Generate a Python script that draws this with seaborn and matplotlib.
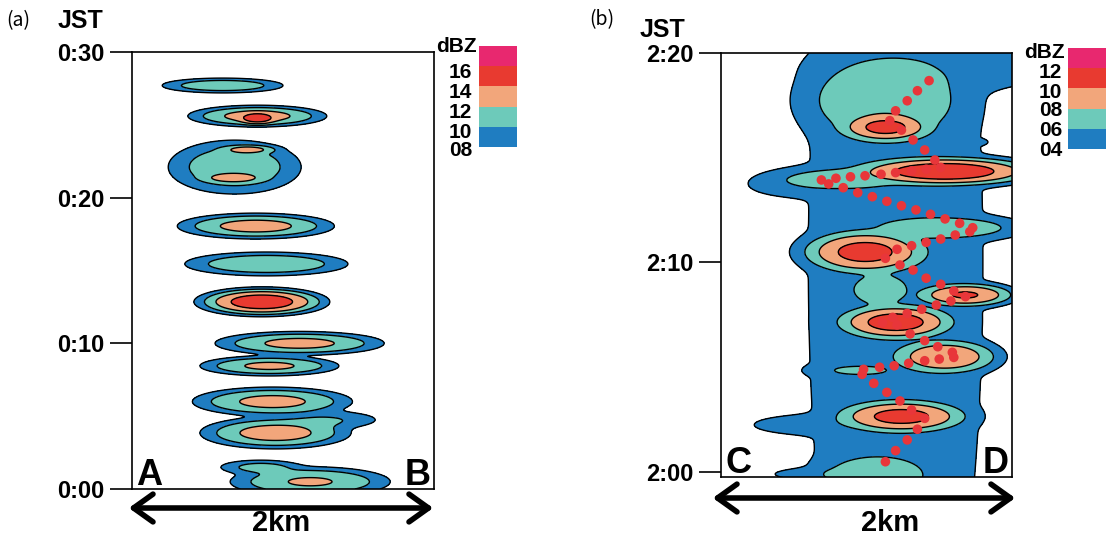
import numpy as np
import matplotlib
matplotlib.use("Agg")
import matplotlib.pyplot as plt
from matplotlib.patches import FancyArrowPatch
import seaborn as sns

# panel (a): cells along A-B, half extents of the 08 dBZ contour (km, minutes)
a_x = [0.60, 0.83, 0.83, 0.68, 0.77, 0.67, 0.82, 0.89, 0.86, 1.11, 0.91, 0.93, 0.95, 1.31, 1.18, 0.85]
a_t = [27.7, 25.6, 25.45, 22.1, 23.3, 21.35, 18.05, 15.45, 12.85, 10.0, 8.45, 6.0, 3.85, 4.75, 0.5, 1.5]
a_wx = [0.40, 0.46, 0.15, 0.44, 0.20, 0.22, 0.52, 0.54, 0.45, 0.56, 0.46, 0.53, 0.50, 0.30, 0.53, 0.26]
a_wt = [0.51, 0.75, 0.50, 1.85, 0.35, 0.40, 0.89, 0.82, 1.03, 0.82, 0.69, 1.00, 1.10, 0.55, 1.03, 0.48]
a_peak = [11.5, 12.9, 14.5, 11.5, 12.4, 12.4, 12.8, 11.8, 15.3, 12.6, 12.4, 12.6, 12.9, 10.0, 12.2, 10.6]

# panel (b): cells along C-D, half extents of the 06 dBZ contour
b_x = [1.12, 1.13, 1.54, 0.82, 0.99, 1.54, 1.68, 1.20, 1.09, 1.54, 0.97, 1.24, 1.06]
b_t = [17.75, 16.45, 14.35, 14.0, 10.5, 11.65, 8.45, 7.15, 8.7, 5.5, 4.85, 2.65, -0.15]
b_wx = [0.43, 0.30, 0.62, 0.31, 0.41, 0.38, 0.31, 0.39, 0.15, 0.33, 0.12, 0.43, 0.29]
b_wt = [1.62, 0.67, 0.68, 0.38, 1.00, 0.43, 0.53, 0.81, 0.57, 0.76, 0.14, 0.76, 0.76]
b_peak = [7.8, 10.6, 11.5, 6.8, 10.8, 7.3, 10.2, 11.0, 7.0, 9.8, 6.5, 10.7, 7.3]

# panel (b): weak echo around the cells, half extents of the 04 dBZ contour
bg_x = [1.20, 0.54, 1.02, 0.61, 0.75, 1.50, 0.80, 1.75]
bg_t = [10.0, 13.7, 12.85, 2.25, -0.1, 19.3, 4.85, 15.75]
bg_wx = [0.60, 0.34, 0.24, 0.38, 0.37, 0.80, 0.20, 0.06]
bg_wt = [24.0, 0.57, 0.57, 0.45, 0.30, 1.1, 0.30, 0.12]
bg_peak = [5.3, 5.2, 5.2, 5.2, 5.2, 5.2, 5.2, 4.6]

# red dots in panel (b)
dot_x = [1.43, 1.35, 1.28, 1.20, 1.16, 1.24, 1.32, 1.40, 1.47, 1.51, 1.41, 1.31, 1.20, 1.10,
         0.99, 0.89, 0.79, 0.69, 0.74, 0.84, 0.94, 1.04, 1.14, 1.24, 1.34, 1.44, 1.54, 1.64,
         1.73, 1.71, 1.61, 1.51, 1.41, 1.31, 1.21, 1.13, 1.23, 1.32, 1.41, 1.51, 1.60, 1.68,
         1.58, 1.48, 1.38, 1.28, 1.18, 1.11, 1.21, 1.30, 1.40, 1.49, 1.59, 1.60, 1.50, 1.40,
         1.29, 1.19, 1.09, 0.98, 0.97, 1.05, 1.14, 1.23, 1.31, 1.40, 1.35, 1.28, 1.20, 1.13]
dot_t = [18.68, 18.20, 17.72, 17.24, 16.77, 16.32, 15.85, 15.37, 14.89, 14.54, 14.45, 14.37,
         14.29, 14.21, 14.14, 14.09, 14.02, 13.94, 13.75, 13.57, 13.33, 13.14, 12.92, 12.71,
         12.51, 12.30, 12.08, 11.87, 11.66, 11.47, 11.31, 11.12, 10.96, 10.80, 10.63, 10.20,
         9.88, 9.64, 9.25, 8.96, 8.64, 8.37, 8.16, 7.97, 7.77, 7.57, 7.38, 7.13, 7.02, 6.59,
         6.27, 5.98, 5.71, 5.47, 5.39, 5.31, 5.19, 5.07, 5.00, 4.90, 4.66, 4.23, 3.80, 3.39,
         2.96, 2.56, 2.04, 1.53, 1.02, 0.49]

a_ticks = [0, 10, 20, 30]
a_ticklabels = ["0:00", "0:10", "0:20", "0:30"]
b_ticks = [0, 10, 20]
b_ticklabels = ["2:00", "2:10", "2:20"]
a_levels = [8, 10, 12, 14, 16, 40]
b_levels = [4, 6, 8, 10, 12, 40]
a_key = ["16", "14", "12", "10", "08"]
b_key = ["12", "10", "08", "06", "04"]
colors = ["#1f7dc1", "#6dcaba", "#f2a67b", "#e83a30", "#e8286f"]

sns.set_style("white")
plt.rcParams["font.family"] = ["Liberation Sans", "DejaVu Sans"]
plt.rcParams["text.color"] = "black"

SHAPE = 1.25  # flatter than a gaussian


def cells(xx, tt, cx, ct, wx, wt, peak, ref):
    # sum of f**6 -> smooth maximum of the cells
    out = np.zeros_like(xx)
    for x0, t0, w1, w2, p in zip(cx, ct, wx, wt, peak):
        k = np.log(p / ref) ** (1 / (2 * SHAPE))
        q = ((xx - x0) / (w1 / k)) ** 2 + ((tt - t0) / (w2 / k)) ** 2
        out += (p * np.exp(-q ** SHAPE)) ** 6
    return out


def setup(ax, ticks, labels, ylim):
    ax.set_xlim(0, 2)
    ax.set_ylim(*ylim)
    ax.set_xticks([])
    ax.set_yticks(ticks)
    ax.set_yticklabels(labels, fontsize=17, fontweight="bold")
    ax.tick_params(axis="y", left=True, length=16, width=1.2, pad=4, color="k", labelcolor="k")
    for s in ax.spines.values():
        s.set_color("k")
        s.set_linewidth(1.2)
    ax.yaxis.get_major_ticks()[-1].tick1line.set_color("#4a4a9a")


fig = plt.figure(figsize=(11.06, 5.39), dpi=100)
W, H = 1106, 539


def fx(px):
    return px / W


def fy(py):
    return 1 - py / H


# ---- panel (a)
axa = fig.add_axes([fx(132), fy(489), 302 / W, 437 / H])
xg = np.linspace(0, 2, 400)
xa, ta = np.meshgrid(xg, np.linspace(0, 30, 700))
fa = cells(xa, ta, a_x, a_t, a_wx, a_wt, a_peak, 8) ** (1 / 6)
axa.contourf(xa, ta, fa, levels=a_levels, colors=colors)
axa.contour(xa, ta, fa, levels=a_levels[:-1], colors="k", linewidths=1.0)
setup(axa, a_ticks, a_ticklabels, (0, 30))

# ---- panel (b)
axb = fig.add_axes([fx(721), fy(477), 291 / W, 424 / H])
xb, tb = np.meshgrid(xg, np.linspace(-0.3, 20, 600))
fb = (cells(xb, tb, b_x, b_t, b_wx, b_wt, b_peak, 6)
      + cells(xb, tb, bg_x, bg_t, bg_wx, bg_wt, bg_peak, 4)) ** (1 / 6)
axb.contourf(xb, tb, fb, levels=b_levels, colors=colors)
axb.contour(xb, tb, fb, levels=b_levels[:-1], colors="k", linewidths=1.0)
sns.scatterplot(x=dot_x, y=dot_t, ax=axb, color="#e8363a", s=48, edgecolor="none",
                zorder=5, legend=False)
setup(axb, b_ticks, b_ticklabels, (-0.24, 20))

# end point letters
for ax, left, right in [(axa, "A", "B"), (axb, "C", "D")]:
    ax.text(0.015, 0.01, left, transform=ax.transAxes, fontsize=26, fontweight="bold",
            ha="left", va="baseline")
    ax.text(0.99, 0.01, right, transform=ax.transAxes, fontsize=26, fontweight="bold",
            ha="right", va="baseline")

# colour keys
for left, top, labels, lab_x, lab_y, dbz in [
        (479, 46, a_key, 472, [73, 92, 112, 132, 150], (477, 47)),
        (1068, 48, b_key, 1062, [72, 92, 110, 130, 150], (1065, 53))]:
    kax = fig.add_axes([fx(left), fy(top + 101), 38 / W, 101 / H])
    for i, c in enumerate(colors):
        kax.bar(0, 1, bottom=i, width=1, color=c, edgecolor="none")
    kax.set_xlim(-0.5, 0.5)
    kax.set_ylim(0, 5)
    kax.axis("off")
    for lab, y in zip(labels, lab_y):
        fig.text(fx(lab_x), fy(y), lab, ha="right", va="center", fontsize=15, fontweight="bold")
    fig.text(fx(dbz[0]), fy(dbz[1]), "dBZ", ha="right", va="center", fontsize=15,
             fontweight="bold")

# 2 km arrows
for x0, x1, y, xt in [(126, 436, 508, 281), (710, 1018, 498, 890)]:
    fig.add_artist(FancyArrowPatch((fx(x0), fy(y)), (fx(x1), fy(y)), transform=fig.transFigure,
                                   arrowstyle="<->,head_length=0.7,head_width=0.5",
                                   mutation_scale=20, lw=4, color="k"))
    fig.text(fx(xt), fy(523), "2km", ha="center", va="center", fontsize=21, fontweight="bold")

# titles
fig.text(fx(80), fy(21), "JST", ha="center", va="center", fontsize=18, fontweight="bold")
fig.text(fx(662), fy(30), "JST", ha="center", va="center", fontsize=18, fontweight="bold")
fig.text(fx(6), fy(21), "(a)", ha="left", va="center", fontsize=14,
         family=["Noto Sans CJK JP", "DejaVu Sans"])
fig.text(fx(589), fy(20), "(b)", ha="left", va="center", fontsize=14,
         family=["Noto Sans CJK JP", "DejaVu Sans"])

fig.savefig("out.png", dpi=100)
